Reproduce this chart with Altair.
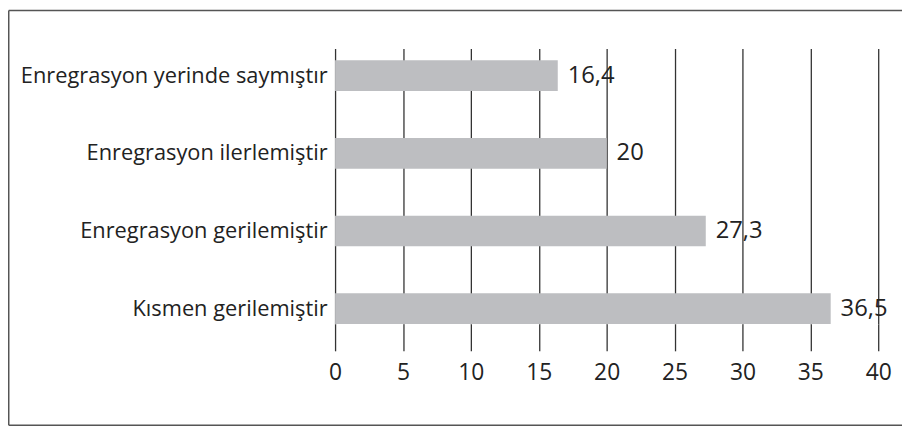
import altair as alt
import pandas as pd

categories = [
    "Enregrasyon yerinde saymıştır",
    "Enregrasyon ilerlemiştir",
    "Enregrasyon gerilemiştir",
    "Kısmen gerilemiştir",
]
values = [16.4, 20, 27.3, 36.5]
x_ticks = [0, 5, 10, 15, 20, 25, 30, 35, 40]


def fmt(v):
    return f"{v:g}".replace(".", ",")


df = pd.DataFrame({"kategori": categories, "deger": values,
                   "etiket": [fmt(v) for v in values]})

FONT = "Open Sans"
TXT = "#222222"
GRID = "#333333"
W, H = 548, 278
PAD = {"left": 330, "top": 39, "right": 24, "bottom": 103}

y_enc = alt.Y(
    "kategori:N", sort=categories, title=None,
    scale=alt.Scale(paddingInner=0.605, paddingOuter=0.0755, align=1),
    axis=alt.Axis(ticks=False, domain=False, labelFont=FONT, labelFontSize=22,
                  labelColor=TXT, labelPadding=8, labelLimit=400),
)
x_enc = alt.X(
    "deger:Q", title=None, scale=alt.Scale(domain=[0, 40], nice=False),
    axis=alt.Axis(values=x_ticks, grid=True, gridColor=GRID, gridWidth=1.3,
                  gridOpacity=1, tickColor=GRID, tickWidth=1.3, tickSize=27,
                  domain=False, labelFont=FONT, labelFontSize=23,
                  labelPadding=11, labelColor=TXT, labelFlush=False),
)

bars = alt.Chart(df).mark_bar(color="#bdbec1").encode(x=x_enc, y=y_enc)
text = alt.Chart(df).mark_text(
    align="left", baseline="middle", dx=10, fontSize=24, font=FONT, color=TXT
).encode(x="deger:Q", y=alt.Y("kategori:N", sort=categories), text="etiket:N")

frame_data = alt.Data(values=[{"k": 1}])
FS = dict(color="#555555", strokeWidth=1.5)
top_line = alt.Chart(frame_data).mark_rule(**FS).encode(
    x=alt.value(-329.25), x2=alt.value(572), y=alt.value(-38.25))
left_line = alt.Chart(frame_data).mark_rule(**FS).encode(
    x=alt.value(-329.25), y=alt.value(-38.25), y2=alt.value(380))
bottom_line = alt.Chart(frame_data).mark_rule(**FS).encode(
    x=alt.value(-329.25), x2=alt.value(572), y=alt.value(380))

chart = alt.layer(bars, text, top_line, left_line, bottom_line).properties(
    width=W, height=H, padding=PAD,
    autosize=alt.AutoSizeParams(type="none"),
    background="white",
).configure_view(stroke=None)

chart.save("out.html", embed_options={"renderer": "svg", "actions": False})
